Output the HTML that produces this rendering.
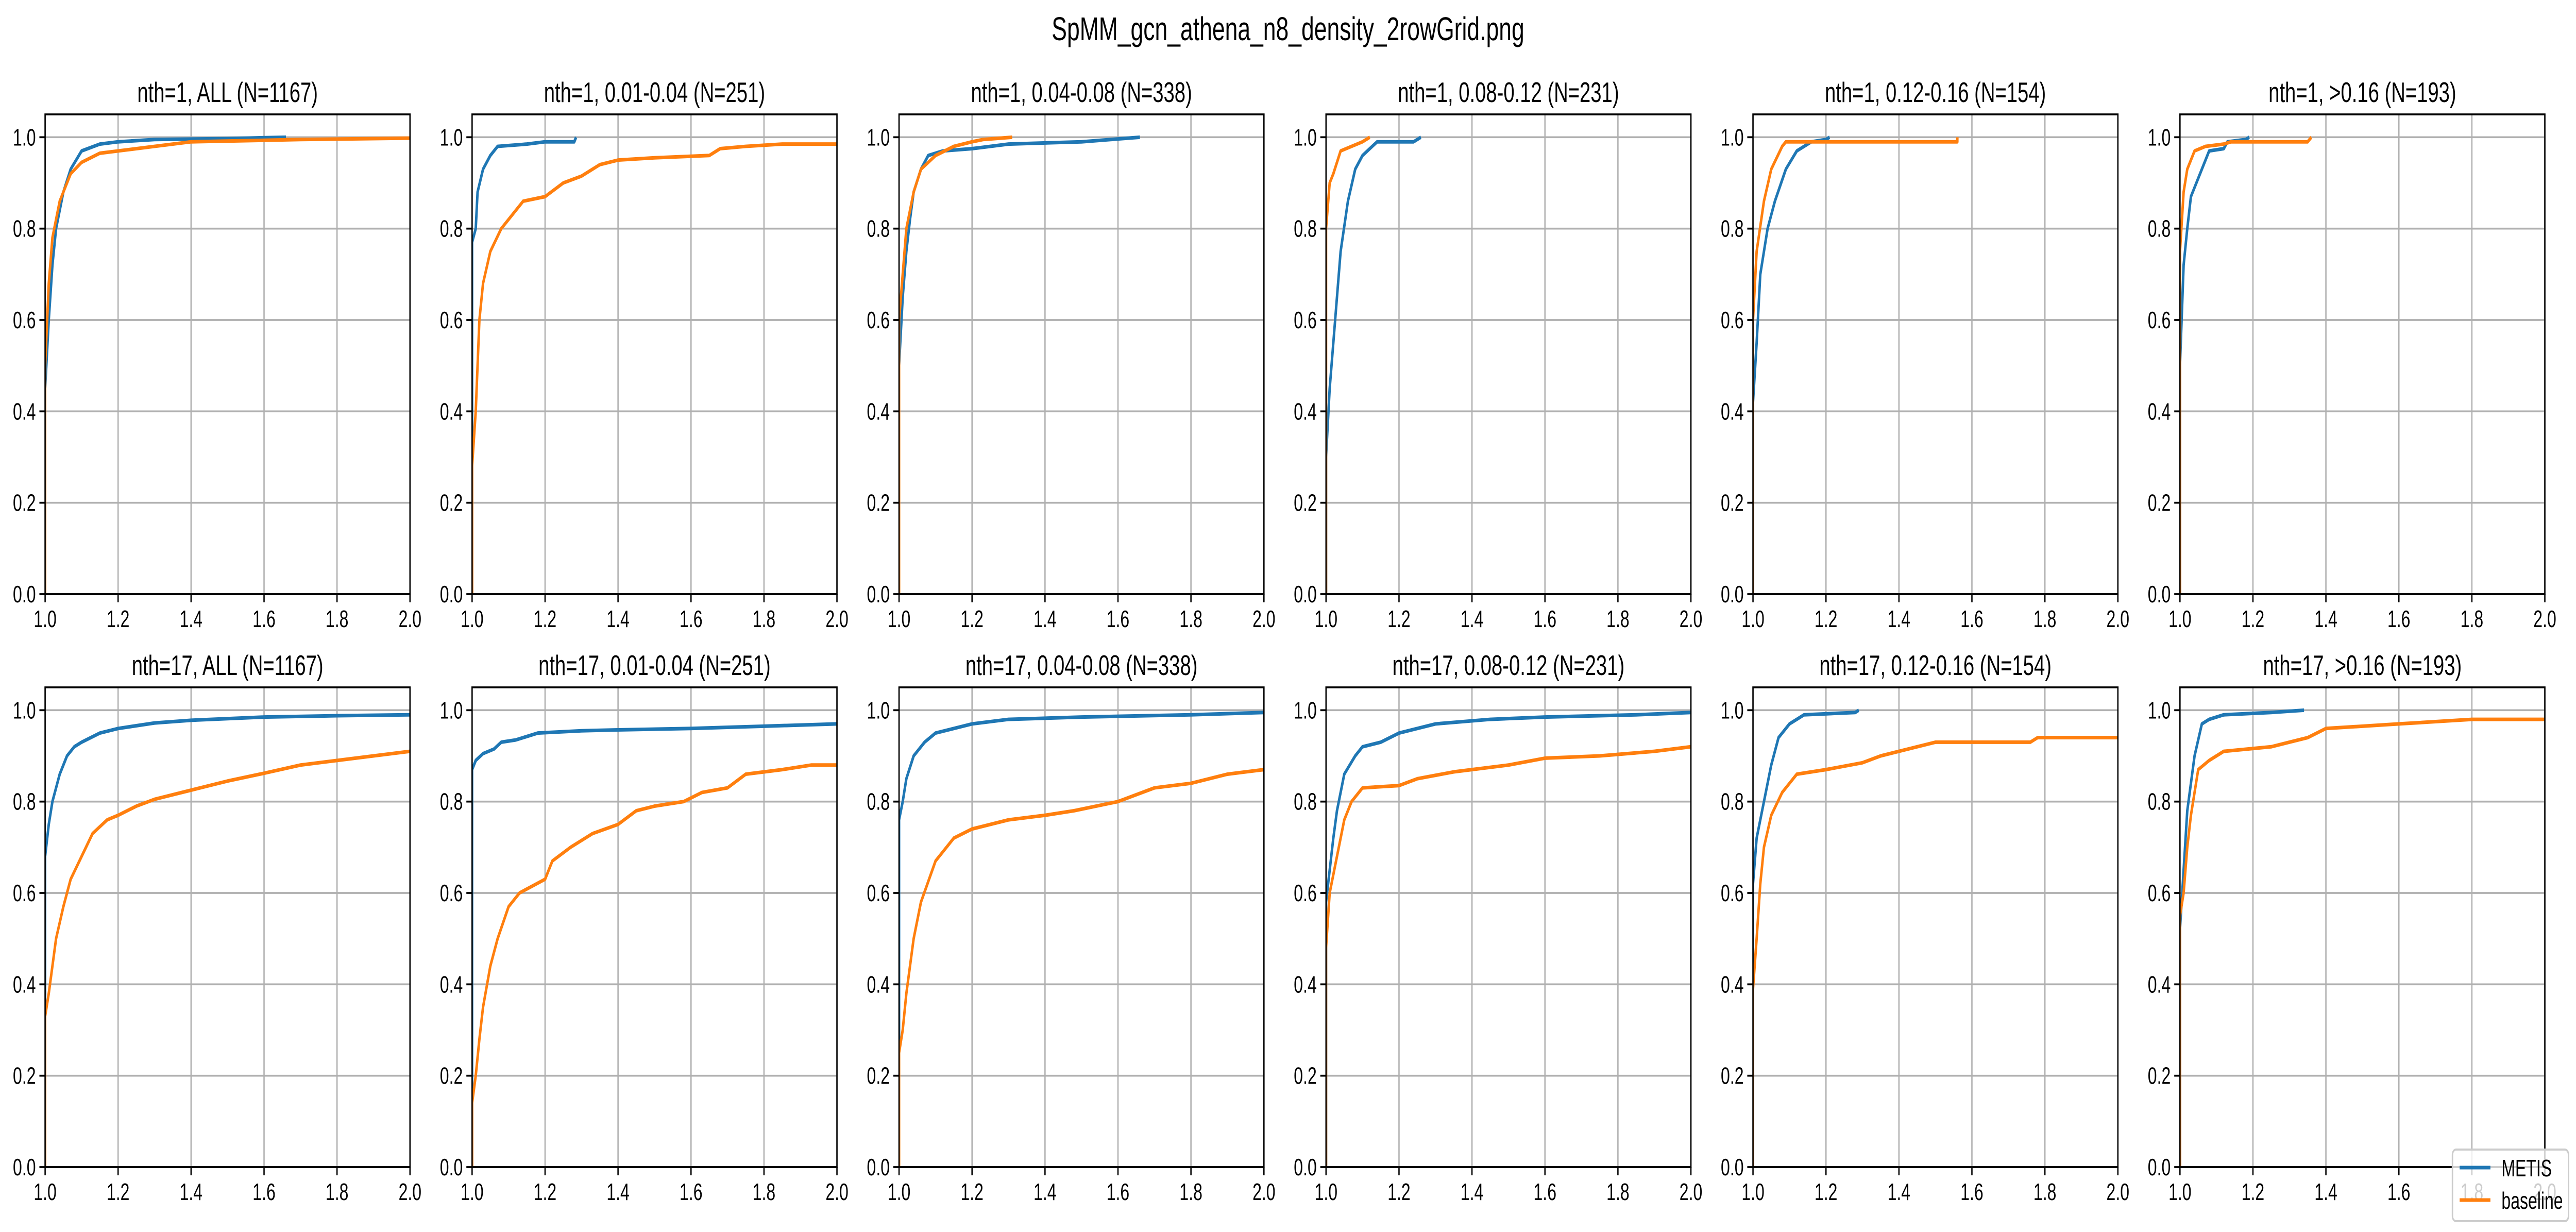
<!DOCTYPE html>
<html><head><meta charset="utf-8"><style>
html,body{margin:0;padding:0;background:#fff;overflow:hidden;width:100%;height:100%;}
svg{display:block;width:100vw;height:100vh;font-family:"Liberation Sans","DejaVu Sans",sans-serif;}
</style></head><body>
<svg id="chart" viewBox="0 0 7194 2391" preserveAspectRatio="none" xmlns="http://www.w3.org/2000/svg">
<rect width="7194" height="2391" fill="#fff"/>
<text x="3597" y="78" font-size="64" text-anchor="middle" fill="#000">SpMM_gcn_athena_n8_density_2rowGrid.png</text>
<g id="panels"></g>
<g>
<rect x="6849" y="2231" width="324" height="139" rx="10" fill="#fff" fill-opacity="0.8" stroke="#ccc" stroke-width="4"/>
<line x1="6869" y1="2266" x2="6955" y2="2266" stroke="#1f77b4" stroke-width="7"/>
<text x="6986" y="2283" font-size="46">METIS</text>
<line x1="6869" y1="2329" x2="6955" y2="2329" stroke="#ff7f0e" stroke-width="7"/>
<text x="6986" y="2346" font-size="46">baseline</text>
</g>
</svg>
<script>
const titles = ["nth=1, ALL (N=1167)","nth=1, 0.01-0.04 (N=251)","nth=1, 0.04-0.08 (N=338)","nth=1, 0.08-0.12 (N=231)","nth=1, 0.12-0.16 (N=154)","nth=1, >0.16 (N=193)",
"nth=17, ALL (N=1167)","nth=17, 0.01-0.04 (N=251)","nth=17, 0.04-0.08 (N=338)","nth=17, 0.08-0.12 (N=231)","nth=17, 0.12-0.16 (N=154)","nth=17, >0.16 (N=193)"];
const xTicks = [1.0,1.2,1.4,1.6,1.8,2.0];
const yTicks = [0.0,0.2,0.4,0.6,0.8,1.0];
const metisX = [
[1,1,1.01,1.02,1.03,1.05,1.07,1.1,1.15,1.2,1.3,1.5,1.66],
[1,1,1.01,1.015,1.03,1.05,1.07,1.15,1.2,1.28,1.285],
[1,1,1.01,1.02,1.03,1.04,1.06,1.08,1.12,1.2,1.3,1.5,1.58,1.66],
[1,1,1.01,1.02,1.03,1.04,1.06,1.08,1.1,1.14,1.24,1.26],
[1,1,1.01,1.02,1.04,1.06,1.09,1.12,1.16,1.2,1.21],
[1,1,1.01,1.02,1.03,1.05,1.08,1.12,1.13,1.18,1.19],
[1,1,1.01,1.02,1.04,1.06,1.08,1.1,1.15,1.2,1.3,1.4,1.6,1.8,2],
[1,1,1.01,1.03,1.06,1.08,1.12,1.18,1.3,1.4,1.6,1.8,2],
[1,1,1.01,1.02,1.04,1.07,1.1,1.15,1.2,1.3,1.5,1.8,2],
[1,1,1.01,1.02,1.03,1.05,1.08,1.1,1.15,1.2,1.3,1.45,1.6,1.85,2],
[1,1,1.01,1.03,1.05,1.07,1.1,1.14,1.28,1.29],
[1,1,1.01,1.02,1.04,1.06,1.08,1.12,1.25,1.34]];
const metisY = [
[0,0.45,0.6,0.72,0.8,0.88,0.93,0.97,0.985,0.99,0.995,0.997,1.0],
[0,0.77,0.8,0.88,0.93,0.96,0.98,0.985,0.99,0.99,1.0],
[0,0.5,0.65,0.75,0.82,0.88,0.93,0.96,0.97,0.975,0.985,0.99,0.995,1.0],
[0,0.3,0.45,0.55,0.65,0.75,0.86,0.93,0.96,0.99,0.99,1.0],
[0,0.42,0.55,0.7,0.8,0.86,0.93,0.97,0.99,0.995,1.0],
[0,0.5,0.72,0.8,0.87,0.91,0.97,0.975,0.99,0.995,1.0],
[0,0.68,0.75,0.8,0.86,0.9,0.92,0.93,0.95,0.96,0.972,0.978,0.985,0.988,0.99],
[0,0.87,0.89,0.905,0.915,0.93,0.935,0.95,0.955,0.957,0.96,0.965,0.97],
[0,0.76,0.8,0.85,0.9,0.93,0.95,0.96,0.97,0.98,0.985,0.99,0.995],
[0,0.58,0.65,0.72,0.78,0.86,0.9,0.92,0.93,0.95,0.97,0.98,0.985,0.99,0.995],
[0,0.62,0.72,0.8,0.88,0.94,0.97,0.99,0.995,1.0],
[0,0.52,0.65,0.78,0.9,0.97,0.98,0.99,0.995,1.0]];
const baseX = [
[1,1,1.01,1.02,1.04,1.07,1.1,1.15,1.2,1.3,1.4,1.7,2],
[1,1,1.01,1.02,1.03,1.05,1.08,1.12,1.14,1.2,1.25,1.3,1.35,1.4,1.5,1.65,1.68,1.75,1.85,2],
[1,1,1.01,1.02,1.04,1.06,1.1,1.15,1.2,1.23,1.31],
[1,1,1.01,1.02,1.04,1.07,1.1,1.12],
[1,1,1.01,1.03,1.05,1.08,1.09,1.56,1.56],
[1,1,1.01,1.02,1.04,1.07,1.12,1.14,1.35,1.36],
[1,1,1.01,1.03,1.05,1.07,1.1,1.13,1.17,1.2,1.25,1.3,1.4,1.5,1.6,1.7,1.8,1.9,2],
[1,1,1.01,1.02,1.03,1.05,1.07,1.1,1.13,1.2,1.22,1.27,1.33,1.4,1.45,1.5,1.58,1.63,1.7,1.75,1.85,1.93,2],
[1,1,1.01,1.02,1.04,1.06,1.1,1.15,1.2,1.3,1.4,1.48,1.6,1.7,1.8,1.9,2],
[1,1,1.01,1.03,1.05,1.07,1.1,1.2,1.25,1.35,1.5,1.6,1.75,1.9,2],
[1,1,1.01,1.02,1.03,1.05,1.08,1.12,1.2,1.3,1.35,1.5,1.76,1.78,2],
[1,1,1.01,1.02,1.03,1.05,1.08,1.12,1.25,1.35,1.4,1.6,1.8,2]];
const baseY = [
[0,0.5,0.68,0.78,0.86,0.92,0.945,0.965,0.97,0.98,0.99,0.995,0.998],
[0,0.28,0.4,0.6,0.68,0.75,0.8,0.84,0.86,0.87,0.9,0.915,0.94,0.95,0.955,0.96,0.975,0.98,0.985,0.985],
[0,0.6,0.7,0.8,0.88,0.93,0.96,0.98,0.99,0.995,1.0],
[0,0.8,0.9,0.92,0.97,0.98,0.99,1.0],
[0,0.6,0.75,0.86,0.93,0.98,0.99,0.99,1.0],
[0,0.75,0.88,0.93,0.97,0.98,0.985,0.99,0.99,1.0],
[0,0.33,0.38,0.5,0.57,0.63,0.68,0.73,0.76,0.77,0.79,0.805,0.825,0.845,0.862,0.88,0.89,0.9,0.91],
[0,0.14,0.2,0.28,0.35,0.44,0.5,0.57,0.6,0.63,0.67,0.7,0.73,0.75,0.78,0.79,0.8,0.82,0.83,0.86,0.87,0.88,0.88],
[0,0.25,0.3,0.38,0.5,0.58,0.67,0.72,0.74,0.76,0.77,0.78,0.8,0.83,0.84,0.86,0.87],
[0,0.48,0.6,0.68,0.76,0.8,0.83,0.835,0.85,0.865,0.88,0.895,0.9,0.91,0.92],
[0,0.39,0.5,0.62,0.7,0.77,0.82,0.86,0.87,0.885,0.9,0.93,0.93,0.94,0.94],
[0,0.55,0.6,0.7,0.77,0.87,0.89,0.91,0.92,0.94,0.96,0.97,0.98,0.98]];

const NS="http://www.w3.org/2000/svg";
const root=document.getElementById('panels');
function mk(tag,attrs,parent){const e=document.createElementNS(NS,tag);for(const k in attrs)e.setAttribute(k,attrs[k]);parent.appendChild(e);return e;}
const W=1019,H=931,rowTop=[222,1334];
for(let p=0;p<12;p++){
  const r=Math.floor(p/6),c=p%6;
  const L=126+c*1192.4,T=rowTop[r],B=T+H,R=L+W;
  const sx=v=>L+(v-1)*W;
  const sy=v=>B-(v/1.05)*H;
  const g=mk('g',{},root);
  
  
  const t=mk('text',{x:L+W/2,y:T-24,'font-size':55,'text-anchor':'middle'},g);
  t.textContent=titles[p];
  
  
  xTicks.forEach(v=>{
    const gl=mk('line',{x1:sx(v),x2:sx(v),y1:T,y2:B,stroke:'#b0b0b0','stroke-width':3.7},g);
    
    
    mk('line',{x1:sx(v),x2:sx(v),y1:B,y2:B+16,stroke:'#000','stroke-width':3.7},g);
    const tl=mk('text',{x:sx(v),y:B+64,'font-size':46,'text-anchor':'middle'},g);
    tl.textContent=v.toFixed(1);
    
    
  });
  yTicks.forEach(v=>{
    const gl=mk('line',{x1:L,x2:R,y1:sy(v),y2:sy(v),stroke:'#b0b0b0','stroke-width':3.7},g);
    
    
    mk('line',{x1:L-16,x2:L,y1:sy(v),y2:sy(v),stroke:'#000','stroke-width':3.7},g);
    const tl=mk('text',{x:L-26,y:sy(v)+16,'font-size':46,'text-anchor':'end'},g);
    tl.textContent=v.toFixed(1);
    
    
  });
  const cp=mk('clipPath',{id:'cp'+p},g);
  mk('rect',{x:L,y:T,width:W,height:H},cp);
  [[metisX[p],metisY[p],'#1f77b4','metis-line'],[baseX[p],baseY[p],'#ff7f0e','baseline-line']].forEach(([xs,ys,col,nm])=>{
    let pts=[];
    for(let i=0;i<xs.length;i++){
      pts.push(sx(xs[i])+','+sy(ys[i]));
    }
    const pl=mk('polyline',{points:pts.join(' '),fill:'none',stroke:col,'stroke-width':7,'stroke-linejoin':'round','clip-path':'url(#cp'+p+')'},g);
    
    
  });
  const fr=mk('rect',{x:L,y:T,width:W,height:H,fill:'none',stroke:'#000','stroke-width':3.7},g);
  
  
}
</script>
</body></html>
